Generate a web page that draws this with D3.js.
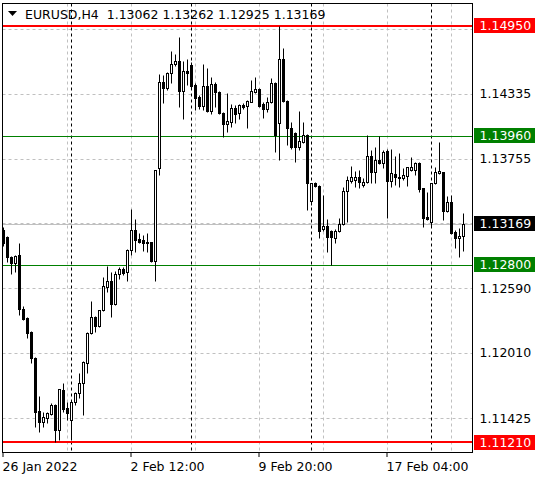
<!DOCTYPE html>
<html>
<head>
<meta charset="utf-8">
<script src="https://cdn.jsdelivr.net/npm/d3@7"></script>
<style>
  html, body { margin: 0; padding: 0; background: #fff; }
  svg { display: block; }
  text { font-family: 'DejaVu Sans', Verdana, sans-serif; font-size: 12.5px; white-space: pre; }
</style>
</head>
<body>
<svg id="chart" width="544" height="480"></svg>
<script>
// ---- DATA (EURUSD H4) ----
const symbolTitle = "EURUSD,H4  1.13062 1.13262 1.12925 1.13169";

const opens = [1.13114,1.13051,1.12871,1.12817,1.12889,1.12404,1.12323,1.12198,1.11964,1.11488,
1.11389,1.11425,1.11461,1.11542,1.11318,1.11677,1.11515,1.11407,1.11569,1.11650,
1.11740,1.11919,1.12189,1.12332,1.12252,1.12395,1.12602,1.12656,1.12449,1.12718,
1.12763,1.12736,1.12934,1.13114,1.13033,1.13024,1.12997,1.13006,1.12835,1.13670,
1.14443,1.14389,1.14523,1.14604,1.14631,1.14362,1.14541,1.14595,1.14416,1.14308,
1.14227,1.14407,1.14182,1.14425,1.14353,1.14164,1.14065,1.14083,1.14209,1.14164,
1.14236,1.14227,1.14263,1.14353,1.14380,1.14245,1.14200,1.14263,1.14434,1.14074,
1.14649,1.14272,1.14030,1.13985,1.13859,1.13904,1.13967,1.13374,1.13536,1.13509,
1.13123,1.13150,1.13105,1.13042,1.13105,1.13167,1.13464,1.13554,1.13563,1.13590,
1.13518,1.13545,1.13778,1.13634,1.13742,1.13715,1.13823,1.13554,1.13616,1.13590,
1.13581,1.13599,1.13652,1.13652,1.13715,1.13491,1.13230,1.13185,1.13536,1.13625,
1.13634,1.13284,1.13365,1.13096,1.13042,1.13062];

const highs = [1.13141,1.13060,1.12880,1.12889,1.12997,1.12431,1.12332,1.12207,1.11973,1.11623,
1.11479,1.11479,1.11560,1.11551,1.11686,1.11740,1.11569,1.11587,1.11659,1.11829,
1.11937,1.12198,1.12476,1.12341,1.12395,1.12692,1.12790,1.12736,1.12745,1.12781,
1.12781,1.12943,1.13302,1.13212,1.13087,1.13069,1.13087,1.13006,1.13652,1.14514,
1.14506,1.14532,1.14721,1.14694,1.14847,1.14631,1.14649,1.14622,1.14434,1.14326,
1.14604,1.14568,1.14488,1.14443,1.14362,1.14173,1.14344,1.14245,1.14236,1.14245,
1.14254,1.14281,1.14461,1.14488,1.14389,1.14263,1.14308,1.14479,1.14443,1.14950,
1.14748,1.14281,1.14083,1.13994,1.14182,1.14083,1.13976,1.13536,1.13545,1.13518,
1.13428,1.13212,1.13114,1.13123,1.13221,1.13500,1.13599,1.13688,1.13643,1.13652,
1.13581,1.13967,1.13832,1.13859,1.13958,1.13832,1.13841,1.13841,1.13778,1.13805,
1.13670,1.13679,1.13769,1.13724,1.13724,1.13491,1.13455,1.13536,1.13679,1.13904,
1.13634,1.13419,1.13428,1.13114,1.13132,1.13262];

const lows = [1.12970,1.12826,1.12718,1.12736,1.12350,1.12305,1.12144,1.11919,1.11345,1.11300,
1.11345,1.11380,1.11452,1.11210,1.11228,1.11479,1.11407,1.11228,1.11542,1.11605,
1.11452,1.11829,1.12180,1.12198,1.12243,1.12386,1.12557,1.12332,1.12440,1.12674,
1.12710,1.12656,1.12889,1.12916,1.12997,1.12925,1.12916,1.12826,1.12656,1.13607,
1.14254,1.14371,1.14434,1.14586,1.14218,1.14110,1.14416,1.14389,1.14191,1.14200,
1.14191,1.14173,1.14155,1.14218,1.14155,1.13949,1.13994,1.14039,1.14074,1.14110,
1.14200,1.14030,1.14263,1.14344,1.14218,1.14119,1.14173,1.14254,1.13814,1.13742,
1.14263,1.13877,1.13841,1.13724,1.13832,1.13895,1.13293,1.13338,1.13500,1.13042,
1.13105,1.12916,1.12799,1.12997,1.13096,1.13159,1.13185,1.13536,1.13500,1.13491,
1.13500,1.13536,1.13536,1.13536,1.13706,1.13670,1.13221,1.13500,1.13518,1.13500,
1.13563,1.13509,1.13643,1.13607,1.13455,1.13141,1.13203,1.13141,1.13527,1.13616,
1.13203,1.13275,1.13078,1.12952,1.12871,1.12925];

const closes = [1.12997,1.12871,1.12817,1.12880,1.12404,1.12314,1.12189,1.11964,1.11479,1.11389,
1.11434,1.11470,1.11542,1.11318,1.11686,1.11506,1.11470,1.11569,1.11650,1.11740,
1.11928,1.12189,1.12332,1.12252,1.12395,1.12611,1.12656,1.12449,1.12718,1.12763,
1.12727,1.12934,1.13114,1.13024,1.13006,1.12997,1.13006,1.12835,1.13652,1.14443,
1.14389,1.14523,1.14604,1.14631,1.14362,1.14541,1.14523,1.14407,1.14299,1.14227,
1.14407,1.14182,1.14425,1.14353,1.14164,1.14065,1.14092,1.14209,1.14155,1.14236,
1.14218,1.14272,1.14362,1.14380,1.14227,1.14200,1.14263,1.14434,1.13967,1.14649,
1.14272,1.14030,1.13859,1.13859,1.13913,1.13967,1.13536,1.13536,1.13509,1.13105,
1.13150,1.13051,1.13051,1.13105,1.13167,1.13464,1.13563,1.13590,1.13590,1.13545,
1.13545,1.13778,1.13634,1.13742,1.13715,1.13814,1.13554,1.13625,1.13590,1.13581,
1.13607,1.13679,1.13679,1.13715,1.13482,1.13221,1.13212,1.13536,1.13634,1.13643,
1.13284,1.13365,1.13087,1.13042,1.13060,1.13169];

// grid levels (two of them sit under the coloured price boxes, so carry no visible label)
const gridPrices = [1.14915, 1.14335, 1.13755, 1.13175, 1.12590, 1.12010, 1.11425];
const priceTicks = [1.14335, 1.13755, 1.12590, 1.12010, 1.11425];
const priceTickLabels = ["1.14335", "1.13755", "1.12590", "1.12010", "1.11425"];
const timeTickIdx = [0, 32, 64, 96];
const timeTickLabels = ["26 Jan 2022", "2 Feb 12:00", "9 Feb 20:00", "17 Feb 04:00"];
const gridIdx = [16, 32, 48, 64, 80, 96, 112];
const weekSeparatorIdx = [17, 47, 77, 107];
const levelPrices = [1.14950, 1.13960, 1.12800, 1.11210];
const levelLabels = ["1.14950", "1.13960", "1.12800", "1.11210"];
const levelKinds = ["red", "green", "green", "red"];

// ---- CHART ----
const W = 544, H = 480;
const plotLeft = 2.5, plotTop = 3.5, plotRight = 472.5, plotBottom = 452.5;
const svg = d3.select("#chart");
const N = closes.length;

const x = d3.scaleLinear().domain([0, N - 1]).range([3.5, 3.5 + 4 * (N - 1)]);
const y = d3.scaleLinear().domain([1.11210, 1.14950]).range([442, 25.5]);
const py = v => Math.round(y(v)) + 0.5;

const levelColor = { red: "#ff0000", green: "#008000" };

svg.append("rect").attr("width", W).attr("height", H).attr("fill", "#fff");

const plot = svg.append("g");
plot.append("defs").append("clipPath").attr("id", "clip")
  .append("rect").attr("x", plotLeft).attr("y", plotTop)
  .attr("width", plotRight - plotLeft).attr("height", plotBottom - plotTop);
const inner = plot.append("g").attr("clip-path", "url(#clip)");

// horizontal grid
inner.selectAll("line.hgrid").data(gridPrices).join("line")
  .attr("x1", plotLeft).attr("x2", plotRight)
  .attr("y1", d => py(d)).attr("y2", d => py(d))
  .attr("stroke", "#c0c0c0").attr("stroke-dasharray", "3,3");

// vertical grid
inner.selectAll("line.vgrid").data(gridIdx).join("line")
  .attr("x1", d => x(d)).attr("x2", d => x(d))
  .attr("y1", plotTop).attr("y2", plotBottom)
  .attr("stroke", "#c0c0c0").attr("stroke-dasharray", "3,3");

// week separators
inner.selectAll("line.sep").data(weekSeparatorIdx).join("line")
  .attr("x1", d => x(d)).attr("x2", d => x(d))
  .attr("y1", plotTop).attr("y2", plotBottom)
  .attr("stroke", "#000").attr("stroke-dasharray", "3,3");

// bid line
const lastClose = closes[N - 1];
inner.append("line")
  .attr("x1", plotLeft).attr("x2", plotRight)
  .attr("y1", py(lastClose)).attr("y2", py(lastClose))
  .attr("stroke", "#c0c0c0");

// level lines
levelPrices.forEach((p, k) => {
  const red = levelKinds[k] === "red";
  const yy = red ? Math.round(y(p)) : py(p);
  inner.append("line")
    .attr("x1", plotLeft).attr("x2", plotRight + 2)
    .attr("y1", yy).attr("y2", yy)
    .attr("stroke", levelColor[levelKinds[k]])
    .attr("stroke-width", red ? 2 : 1);
});

// candles
const idx = d3.range(N);
const candles = inner.selectAll("g.candle").data(idx).join("g");
candles.append("line")
  .attr("x1", i => x(i)).attr("x2", i => x(i))
  .attr("y1", i => py(highs[i])).attr("y2", i => py(lows[i]))
  .attr("stroke", "#000");
candles.each(function(i) {
  const g = d3.select(this);
  const top = py(Math.max(opens[i], closes[i]));
  const bot = py(Math.min(opens[i], closes[i]));
  const bull = closes[i] >= opens[i];
  if (bot - top < 1) {
    g.append("line").attr("x1", x(i) - 1.5).attr("x2", x(i) + 1.5)
      .attr("y1", top).attr("y2", top).attr("stroke", "#000");
  } else {
    g.append("rect").attr("x", x(i) - 1).attr("width", 2)
      .attr("y", top).attr("height", bot - top)
      .attr("fill", bull ? "#fff" : "#000").attr("stroke", "#000");
  }
});

// frame
svg.append("rect").attr("x", plotLeft).attr("y", plotTop)
  .attr("width", plotRight - plotLeft).attr("height", plotBottom - plotTop)
  .attr("fill", "none").attr("stroke", "#000");

// title
svg.append("path").attr("d", "M8,11 L17,11 L12.5,16 Z").attr("fill", "#000");
svg.append("text").attr("x", 25).attr("y", 18.5).attr("fill", "#000").text(symbolTitle);

// time axis
svg.selectAll("line.tt").data(timeTickIdx).join("line")
  .attr("x1", d => x(d) - 0.5).attr("x2", d => x(d) - 0.5)
  .attr("y1", plotBottom).attr("y2", plotBottom + 4.5)
  .attr("stroke", "#000");
svg.selectAll("text.tl").data(timeTickIdx).join("text")
  .attr("x", d => x(d) - 1).attr("y", 471)
  .attr("fill", "#000")
  .text((d, k) => timeTickLabels[k]);

// price axis labels
svg.selectAll("text.pl").data(priceTicks).join("text")
  .attr("x", 479.5).attr("y", d => y(d) + 4.5)
  .attr("fill", "#000")
  .text((d, k) => priceTickLabels[k]);

// level label boxes
const bidLabels = levelPrices.map((p, k) => ({ p, label: levelLabels[k], color: levelColor[levelKinds[k]] }));
bidLabels.push({ p: lastClose, label: lastClose.toFixed(5), color: "#000" });
bidLabels.forEach(b => {
  const cy = y(b.p);
  svg.append("rect").attr("x", 474).attr("y", Math.round(cy - 7.5))
    .attr("width", 61).attr("height", 15).attr("fill", b.color);
  svg.append("text").attr("x", 479.5).attr("y", Math.round(cy - 7.5) + 12)
    .attr("fill", "#fff").text(b.label);
});
</script>
</body>
</html>
